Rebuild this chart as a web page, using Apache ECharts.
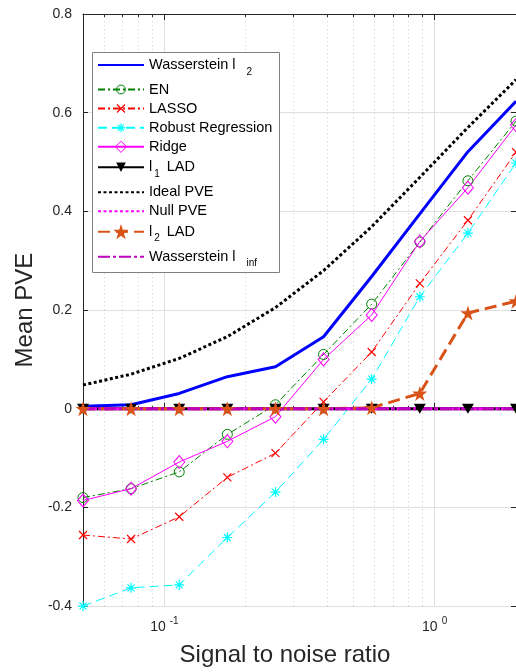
<!DOCTYPE html>
<html>
<head>
<meta charset="utf-8">
<script src="https://cdn.jsdelivr.net/npm/echarts@6/dist/echarts.min.js"></script>
<style>
  html, body { margin: 0; padding: 0; background: #fff; }
  #chart { width: 516px; height: 672px; }
</style>
</head>
<body>
<div id="chart"></div>
<script>
// Signal-to-noise ratios (x) and mean PVE per method (y)
const snr = [0.05, 0.0753, 0.1135, 0.171, 0.2577, 0.3882, 0.5849, 0.8813, 1.3278, 2.0];
const wassersteinL2 = [0.005, 0.008, 0.031, 0.065, 0.085, 0.146, 0.268, 0.395, 0.521, 0.623];
const enet = [-0.180, -0.162, -0.128, -0.052, 0.008, 0.110, 0.212, 0.338, 0.462, 0.583];
const lasso = [-0.256, -0.264, -0.219, -0.139, -0.090, 0.014, 0.115, 0.254, 0.382, 0.520];
const robust = [-0.400, -0.363, -0.357, -0.261, -0.169, -0.062, 0.060, 0.227, 0.356, 0.498];
const ridge = [-0.186, -0.162, -0.108, -0.066, -0.016, 0.100, 0.190, 0.339, 0.448, 0.575];
const l1Lad = [0, 0, 0, 0, 0, 0, 0, 0, 0, 0];
const idealPve = [0.048, 0.070, 0.102, 0.146, 0.205, 0.280, 0.369, 0.469, 0.570, 0.667];
const nullPve = [0, 0, 0, 0, 0, 0, 0, 0, 0, 0];
const l2Lad = [0, 0, 0, 0, 0, 0, 0.002, 0.031, 0.194, 0.218];
const wassersteinInf = [0, 0, 0, 0, 0, 0, 0, 0, 0, 0];

// Axis ticks
const xMajorTicks = [0.1, 1];
const xMinorTicks = [0.06, 0.07, 0.08, 0.09, 0.2, 0.3, 0.4, 0.5, 0.6, 0.7, 0.8, 0.9];
const yMin = -0.4, yMax = 0.8, yStep = 0.2;

const FONT = 'Liberation Sans, Arial, Helvetica, sans-serif';
const AXIS_COLOR = '#262626';

const pts = ys => snr.map((x, i) => [x, ys[i]]);

// Marker shapes
const SYM_X = 'path://M0,0L10,10M10,0L0,10';
const SYM_AST = 'path://M5,0L5,10M0,5L10,5M1.5,1.5L8.5,8.5M8.5,1.5L1.5,8.5';
const SYM_STAR = 'path://M50,0L61.8,35.1L98.9,35.1L69,57L80.3,92.7L50,71L19.7,92.7L31,57L1.1,35.1L38.2,35.1Z';
const CLEAR = 'rgba(0,0,0,0)';

const series = [
  { name: 'Wasserstein l2', data: pts(wassersteinL2), symbol: 'none',
    lineStyle: { color: '#0000ff', width: 3 } },
  { name: 'EN', data: pts(enet), symbol: 'circle', symbolSize: 10,
    itemStyle: { color: CLEAR, borderColor: '#008000', borderWidth: 1 },
    lineStyle: { color: '#008000', width: 1, type: [7, 3, 2, 3] } },
  { name: 'LASSO', data: pts(lasso), symbol: SYM_X, symbolSize: 8,
    itemStyle: { color: CLEAR, borderColor: '#ff0000', borderWidth: 1.2 },
    lineStyle: { color: '#ff0000', width: 1, type: [7, 3, 2, 3] } },
  { name: 'Robust Regression', data: pts(robust), symbol: SYM_AST, symbolSize: 10,
    itemStyle: { color: CLEAR, borderColor: '#00ffff', borderWidth: 1.2 },
    lineStyle: { color: '#00ffff', width: 1, type: [9, 5] } },
  { name: 'Ridge', data: pts(ridge), symbol: 'diamond', symbolSize: [11, 13],
    itemStyle: { color: CLEAR, borderColor: '#ff00ff', borderWidth: 1 },
    lineStyle: { color: '#ff00ff', width: 1 } },
  { name: 'l1 LAD', data: pts(l1Lad), symbol: 'triangle', symbolRotate: 180, symbolSize: [12, 10],
    itemStyle: { color: '#000000' },
    lineStyle: { color: '#000000', width: 3 } },
  { name: 'Ideal PVE', data: pts(idealPve), symbol: 'none',
    lineStyle: { color: '#000000', width: 3, type: [3, 2.5] } },
  { name: 'Null PVE', data: pts(nullPve), symbol: 'none',
    lineStyle: { color: '#ff00ff', width: 3, type: [3, 2.5] } },
  { name: 'l2 LAD', data: pts(l2Lad), symbol: SYM_STAR, symbolSize: 15,
    itemStyle: { color: '#d95319' },
    lineStyle: { color: '#d95319', width: 3, type: [12, 6] } },
  { name: 'Wasserstein linf', data: pts(wassersteinInf), symbol: 'none',
    lineStyle: { color: '#bf00bf', width: 3, type: [12, 3, 3, 3] } }
].map(s => Object.assign({ type: 'line', xAxisIndex: 0, yAxisIndex: 0,
  emphasis: { disabled: true }, silent: true, z: 2 }, s));

// Dotted minor grid at the in-between decade values
series[0].markLine = {
  silent: true, z: 0.5, symbol: ['none', 'none'], label: { show: false },
  lineStyle: { color: '#cfcfcf', width: 1, type: [1, 3] },
  emphasis: { disabled: true },
  data: xMinorTicks.map(v => ({ xAxis: v }))
};

// Legend labels with sub-scripts
const legendText = {
  'Wasserstein l2': '{m|Wasserstein l}{s|2}',
  'EN': '{m|EN}',
  'LASSO': '{m|LASSO}',
  'Robust Regression': '{m|Robust Regression}',
  'Ridge': '{m|Ridge}',
  'l1 LAD': '{m|l}{t|1}{m|LAD}',
  'Ideal PVE': '{m|Ideal PVE}',
  'Null PVE': '{m|Null PVE}',
  'l2 LAD': '{m|l}{t|2}{m|LAD}',
  'Wasserstein linf': '{m|Wasserstein l}{s|inf}'
};
const legendRich = {
  m: { fontSize: 14.5, lineHeight: 16, color: '#000', fontFamily: FONT },
  s: { fontSize: 10, lineHeight: 10, color: '#000', fontFamily: FONT, padding: [14, 0, 0, 11] },
  t: { fontSize: 10, lineHeight: 10, color: '#000', fontFamily: FONT, padding: [14, 7, 0, 2] }
};
// row centre, icon height, marker border, marker shown
const legendLayout = [
  { name: 'Wasserstein l2', cy: 65, ih: 14, marker: false, sub: true },
  { name: 'EN', cy: 90, ih: 11, marker: true, bw: 1 },
  { name: 'LASSO', cy: 109, ih: 10, marker: true, bw: 1.2 },
  { name: 'Robust Regression', cy: 128.3, ih: 11, marker: true, bw: 1.2 },
  { name: 'Ridge', cy: 147.3, ih: 14, marker: true, bw: 1 },
  { name: 'l1 LAD', cy: 167.3, ih: 12, marker: true, bw: 0, sub: true },
  { name: 'Ideal PVE', cy: 192.7, ih: 14, marker: false },
  { name: 'Null PVE', cy: 211.7, ih: 14, marker: false },
  { name: 'l2 LAD', cy: 231.7, ih: 19, marker: true, bw: 0, sub: true },
  { name: 'Wasserstein linf', cy: 256.7, ih: 14, marker: false, sub: true }
];
const legends = legendLayout.map(r => {
  const th = r.sub ? 24 : 16;
  const lg = {
    data: [r.name], orient: 'vertical', left: 97, top: r.cy - Math.max(r.ih, th) / 2,
    padding: 0, itemWidth: 46, itemHeight: r.ih, selectedMode: false, z: 4,
    formatter: n => legendText[n],
    textStyle: { rich: legendRich, fontFamily: FONT, fontSize: 14.5, color: '#000' }
  };
  lg.itemStyle = r.marker ? { borderWidth: r.bw } : { color: CLEAR, borderWidth: 0 };
  return lg;
});

const xBase = { type: 'log', logBase: 10, min: snr[0], max: snr[snr.length - 1], gridIndex: 0 };
const tickOnly = (position, values, len, line) => Object.assign({}, xBase, {
  position,
  axisLine: { show: line, lineStyle: { color: AXIS_COLOR, width: 1 } },
  axisTick: { show: true, inside: true, length: len, customValues: values,
    lineStyle: { color: AXIS_COLOR, width: 1 } },
  axisLabel: { show: false },
  splitLine: { show: false }
});

const option = {
  animation: false,
  backgroundColor: '#ffffff',
  grid: { left: 83, top: 14, width: 435.7, height: 593, containLabel: false },
  xAxis: [
    Object.assign({}, xBase, {
      position: 'bottom',
      name: 'Signal to noise ratio', nameLocation: 'middle', nameGap: 34,
      nameTextStyle: { fontSize: 24, color: AXIS_COLOR, fontFamily: FONT, padding: [0, 29, 0, 0] },
      axisLine: { show: true, lineStyle: { color: AXIS_COLOR, width: 1 } },
      axisTick: { show: true, inside: true, length: 6, customValues: xMajorTicks,
        lineStyle: { color: AXIS_COLOR, width: 1 } },
      axisLabel: {
        customValues: xMajorTicks, margin: 13, color: AXIS_COLOR,
        formatter: v => '{b|10}{s|' + Math.round(Math.log10(v)) + '}',
        rich: {
          b: { fontSize: 14, lineHeight: 16, color: AXIS_COLOR, fontFamily: FONT },
          s: { fontSize: 10, lineHeight: 10, color: AXIS_COLOR, fontFamily: FONT, padding: [0, 0, 12, 4] }
        }
      },
      splitLine: { show: true, lineStyle: { color: '#dfdfdf', width: 1 } }
    }),
    tickOnly('bottom', xMinorTicks, 3, false),
    tickOnly('top', xMajorTicks, 6, true),
    tickOnly('top', xMinorTicks, 3, false)
  ],
  yAxis: [
    {
      type: 'value', min: yMin, max: yMax, interval: yStep, position: 'left',
      name: 'Mean PVE', nameLocation: 'middle', nameGap: 41, nameRotate: 90,
      nameTextStyle: { fontSize: 24, color: AXIS_COLOR, fontFamily: FONT },
      axisLine: { show: true, lineStyle: { color: AXIS_COLOR, width: 1 } },
      axisTick: { show: true, inside: true, length: 5, lineStyle: { color: AXIS_COLOR } },
      axisLabel: { margin: 11, fontSize: 14, color: AXIS_COLOR, fontFamily: FONT },
      splitLine: { show: true, lineStyle: { color: '#dfdfdf', width: 1 } }
    },
    {
      type: 'value', min: yMin, max: yMax, interval: yStep, position: 'right',
      axisLine: { show: true, lineStyle: { color: AXIS_COLOR, width: 1 } },
      axisTick: { show: true, inside: true, length: 5, lineStyle: { color: AXIS_COLOR } },
      axisLabel: { show: false },
      splitLine: { show: false }
    }
  ],
  legend: legends,
  graphic: [{
    type: 'rect', z: 1, silent: true,
    shape: { x: 92.5, y: 52.5, width: 187, height: 220 },
    style: { fill: '#ffffff', stroke: '#808080', lineWidth: 1 }
  }],
  series
};

const chart = echarts.init(document.getElementById('chart'), null, { renderer: 'canvas' });
chart.setOption(option);
</script>
</body>
</html>
